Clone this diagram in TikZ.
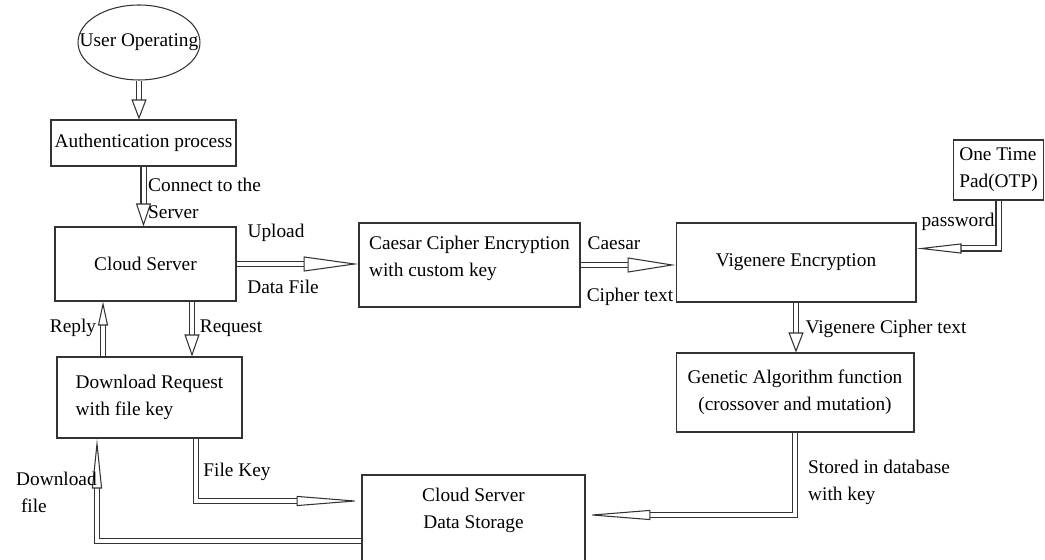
\documentclass[tikz,border=0pt]{standalone}
\usepackage{fontspec}
\setmainfont{Liberation Serif}
\usetikzlibrary{shapes.geometric,arrows.meta,calc,positioning}

\begin{document}
\begin{tikzpicture}[x=0.02cm,y=-0.02cm,font=\fontsize{11}{15.4}\selectfont,
  box/.style={draw=black!80,rectangle,align=left,inner sep=0pt,line width=0.6pt},
  hollow/.style={draw=black!80,double,double distance=0.08cm,line width=0.6pt,
    -{Triangle[open,length=#1,width=0.3cm,line width=0.6pt]}},
  hollow/.default=0.45cm,
  slim/.style={-{Triangle[open,length=#1,width=0.2cm,line width=0.6pt]}}]
  \useasboundingbox (0,0) rectangle (1045,560);
  \clip (0,0) rectangle (1045,560);
  % blocks
  \node[draw=black!80,ellipse,minimum width=2.44cm,minimum height=1.5cm,inner sep=0pt,line width=0.6pt] (user) at (139,42.5) {\makebox[0pt]{User Operating}};
  \node[box,minimum width=3.7cm,minimum height=0.92cm] (auth) at (143.5,143) {Authentication process};
  \node[box,minimum width=3.62cm,minimum height=1.48cm] (cloud) at (145.5,264) {Cloud Server};
  \node[box,minimum width=4.42cm,minimum height=1.68cm] (caesar) at (469.5,265) {Caesar Cipher Encryption\\with custom key\\[-5pt]\mbox{}};
  \node[box,minimum width=4.8cm,minimum height=1.58cm] (vig) at (796,262.5) {Vigenere Encryption};
  \node[box,minimum width=1.8cm,minimum height=1.2cm] (otp) at (998.5,170) {One Time\\Pad(OTP)};
  \node[box,minimum width=4.76cm,minimum height=1.58cm,align=center] (gen) at (795,392.5) {Genetic Algorithm function\\(crossover and mutation)};
  \node[box,minimum width=3.7cm,minimum height=1.62cm] (dl) at (149.5,397.5) {Download Request\\with file key};
  \node[box,minimum width=4.46cm,minimum height=1.8cm,align=center] (ds) at (473.5,520) {Cloud Server\\Data Storage\\[-2pt]\mbox{}};
  % arrows
  \draw[hollow=0.4cm] (user.south) -- (user.south |- auth.north);
  \draw[hollow=0.46cm] (auth.south) -- (auth.south |- cloud.north);
  \draw[hollow=1.1cm] (cloud.east) -- (cloud.east -| caesar.west);
  \draw[hollow=0.96cm] (caesar.east) -- (caesar.east -| vig.west);
  \draw[hollow=0.4cm] (vig.south) -- (vig.south |- gen.north);
  \draw[hollow=0.44cm] ($(cloud.south)+(46.5,0)$) -- ($(dl.north)+(42.5,0)$);
  \draw[hollow=0.48cm,slim=0.48cm] ($(dl.north)+(-46.5,0)$) -- ($(cloud.south)+(-42.5,0)$);
  \draw[hollow,slim=0.9cm] (otp.south) |- ($(vig.east)+(0,-14)$);
  \draw[hollow,slim=1.3cm] (gen.south) |- ($(ds.east)+(0,-5)$);
  \draw[hollow,slim=1.3cm] ($(dl.south)+(46.5,0)$) |- ($(ds.west)+(0,-19)$);
  \draw[hollow,slim=1cm] ($(ds.west)+(0,21)$) -| ($(dl.south)+(-52.5,0)$);
  % labels
  \node[align=left,anchor=west] (lconn) at (142,198) {Connect to the\\Server};
  \node[align=left,anchor=west] (lstore) at (802,482) {Stored in database\\with key};
  \node[align=left,anchor=west] (ldown) at (10,492) {Download\\\ file};
  \foreach \n/\p/\t in {up/{276,233}/Upload, data/{283,287}/Data File,
      caes/{614,243}/Caesar, ciph/{630,297}/Cipher text,
      pass/{958,222}/password, vtxt/{886,329}/Vigenere Cipher text,
      req/{231,328}/Request, rep/{73,328}/Reply, fkey/{237,472}/File Key}
    \node (l\n) at (\p) {\t};
\end{tikzpicture}
\end{document}
